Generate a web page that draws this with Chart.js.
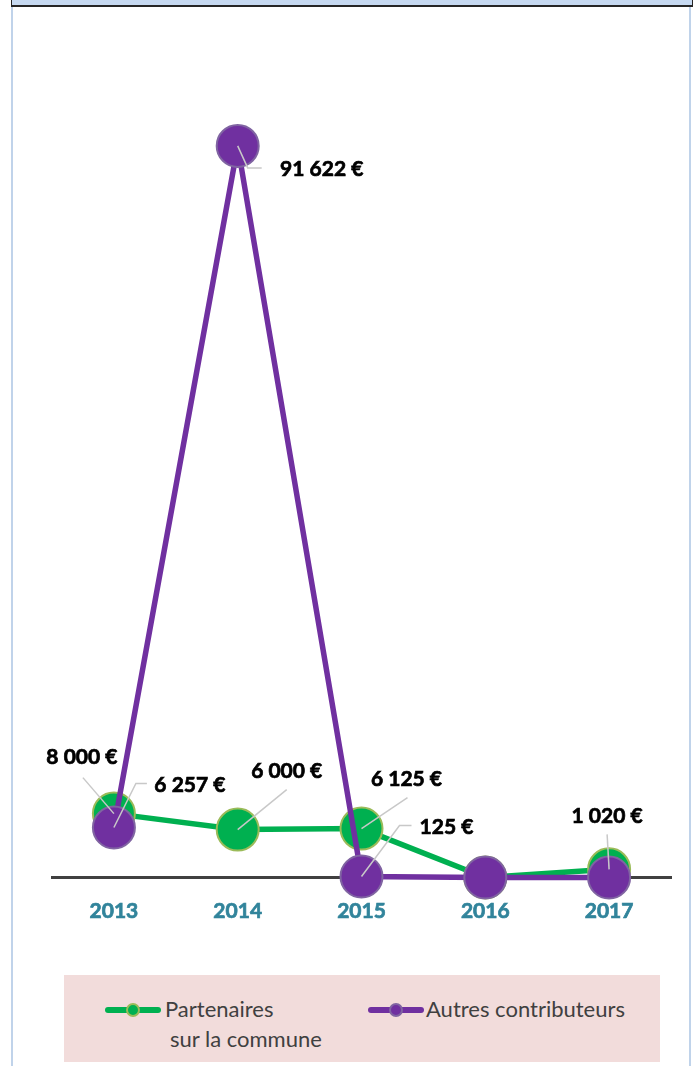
<!DOCTYPE html>
<html>
<head>
<meta charset="utf-8">
<script src="https://cdn.jsdelivr.net/npm/chart.js@4.4.1/dist/chart.umd.min.js"></script>
<style>
  body { margin: 0; background: #fff; width: 696px; height: 1066px; position: relative; overflow: hidden; font-family: Lato, sans-serif; }
  #band { position: absolute; left: 11px; top: 0; width: 680px; height: 5px; background: #c6d9f1; border: 1px solid #262626; border-top: none; border-bottom-width: 2px; }
  .side { position: absolute; top: 7px; bottom: 0; width: 2px; background: #c0d3ea; }
  #wrap { position: absolute; left: 0; top: 0; width: 696px; height: 940px; }
  #legend { position: absolute; left: 64px; top: 975px; width: 596px; height: 87px; background: #f2dcdb; }
  .item { position: absolute; top: 20px; color: #404040; font-size: 22px; line-height: 30px; }
  .mark { position: absolute; top: 12px; height: 6px; border-radius: 3px; }
  .dot { position: absolute; top: -4px; width: 14px; height: 14px; border-radius: 50%; box-sizing: border-box; border: 2px solid; }
  .txt { position: absolute; white-space: nowrap; }
</style>
</head>
<body>
<div id="band"></div>
<div class="side" style="left:11px"></div>
<div class="side" style="left:689px"></div>
<div id="wrap"><canvas id="chart" width="696" height="940"></canvas></div>
<div id="legend"></div>
<script>
// données
const annees = ['2013', '2014', '2015', '2016', '2017'];
const partenaires = [8000, 6000, 6125, 0, 1020];
const autres = [6257, 91622, 125, 0, 0];
const nomsSeries = ['Partenaires\nsur la commune', 'Autres contributeurs'];

const vert = '#00b050', vertBord = '#9bbb59';
const violet = '#7030a0', violetBord = '#8064a2';

// position des étiquettes (centre du texte) et traits de rappel, relatif au point
const etiquettes = [
  [ {dx: -32, dy: -56, start: [-31, -36]},
    {dx: 49, dy: -58, start: [49, -40]},
    {dx: 45, dy: -49, start: [46, -31]},
    null,
    {dx: -2, dy: -53, start: [-2, -35]} ],
  [ {dx: 76, dy: -42, start: [33, -44], elbow: [22, -44]},
    {dx: 84, dy: 23, start: [24, 22], elbow: [10, 22]},
    {dx: 85, dy: -49, start: [50, -51], elbow: [38, -51]},
    null,
    null ]
];

function euros(v) {
  return String(v).replace(/\B(?=(\d{3})+(?!\d))/g, ' ') + ' €';
}

const labelPlugin = {
  id: 'etiquettes',
  afterDatasetsDraw(chart) {
    const ctx = chart.ctx;
    ctx.save();
    chart.data.datasets.forEach((ds, i) => {
      const meta = chart.getDatasetMeta(i);
      meta.data.forEach((pt, j) => {
        const cfg = etiquettes[i][j];
        const v = ds.data[j];
        if (!cfg || !v) return;
        // trait de rappel
        ctx.strokeStyle = '#c8c8c8';
        ctx.lineWidth = 1.5;
        ctx.beginPath();
        ctx.moveTo(pt.x + cfg.start[0], pt.y + cfg.start[1]);
        if (cfg.elbow) ctx.lineTo(pt.x + cfg.elbow[0], pt.y + cfg.elbow[1]);
        ctx.lineTo(pt.x, pt.y);
        ctx.stroke();
        ctx.fillStyle = '#000';
        ctx.strokeStyle = '#000';
        ctx.lineWidth = 0.7;
        ctx.font = 'bold 21px Lato';
        ctx.textAlign = 'center';
        ctx.textBaseline = 'middle';
        ctx.fillText(euros(v), pt.x + cfg.dx, pt.y + cfg.dy);
        ctx.strokeText(euros(v), pt.x + cfg.dx, pt.y + cfg.dy);
      });
    });
    ctx.restore();
  }
};

const ctx = document.getElementById('chart').getContext('2d');
new Chart(ctx, {
  type: 'line',
  data: {
    labels: annees,
    datasets: [
      {
        label: nomsSeries[0],
        data: partenaires,
        borderColor: vert,
        borderWidth: 5.5,
        backgroundColor: vert,
        pointBackgroundColor: vert,
        pointBorderColor: vertBord,
        pointBorderWidth: 2,
        pointRadius: 21,
        pointHoverRadius: 21,
        clip: false,
        order: 2
      },
      {
        label: nomsSeries[1],
        data: autres,
        borderColor: violet,
        borderWidth: 5.5,
        backgroundColor: violet,
        pointBackgroundColor: violet,
        pointBorderColor: violetBord,
        pointBorderWidth: 2,
        pointRadius: 21,
        pointHoverRadius: 21,
        clip: false,
        order: 1
      }
    ]
  },
  options: {
    responsive: false,
    animation: false,
    layout: { padding: { left: 52, right: 25, top: 79, bottom: 2.5 } },
    plugins: { legend: { display: false }, tooltip: { enabled: false } },
    scales: {
      x: {
        offset: true,
        grid: { display: false, drawTicks: false },
        border: { color: '#404040', width: 3 },
        ticks: {
          color: '#31849b',
          font: { family: 'Lato', size: 21, weight: 'bold' },
          textStrokeColor: '#31849b',
          textStrokeWidth: 0.7,
          padding: 21
        },
        afterFit(scale) { scale.height = 60; }
      },
      y: { display: false, min: 0, max: 100000 }
    }
  },
  plugins: [labelPlugin]
});

// légende en HTML
const legende = document.getElementById('legend');
const items = [
  {nom: nomsSeries[0], fond: vert, bord: vertBord, x: 41, txt: 101},
  {nom: nomsSeries[1], fond: violet, bord: violetBord, x: 304, txt: 362}
];
items.forEach(it => {
  const d = document.createElement('div');
  d.className = 'item';
  d.style.left = it.x + 'px';
  const m = document.createElement('div');
  m.className = 'mark';
  m.style.left = '0px';
  m.style.width = '56px';
  m.style.background = it.fond;
  const dot = document.createElement('div');
  dot.className = 'dot';
  dot.style.left = '21px';
  dot.style.background = it.fond;
  dot.style.borderColor = it.bord;
  m.appendChild(dot);
  d.appendChild(m);
  const lignes = it.nom.split('\n');
  lignes.forEach((l, k) => {
    const t = document.createElement('div');
    t.className = 'txt';
    t.textContent = l;
    t.style.left = (it.txt - it.x + (k ? 5 : 0)) + 'px';
    t.style.top = (k * 30 - 1) + 'px';
    d.appendChild(t);
  });
  legende.appendChild(d);
});
</script>
</body>
</html>
